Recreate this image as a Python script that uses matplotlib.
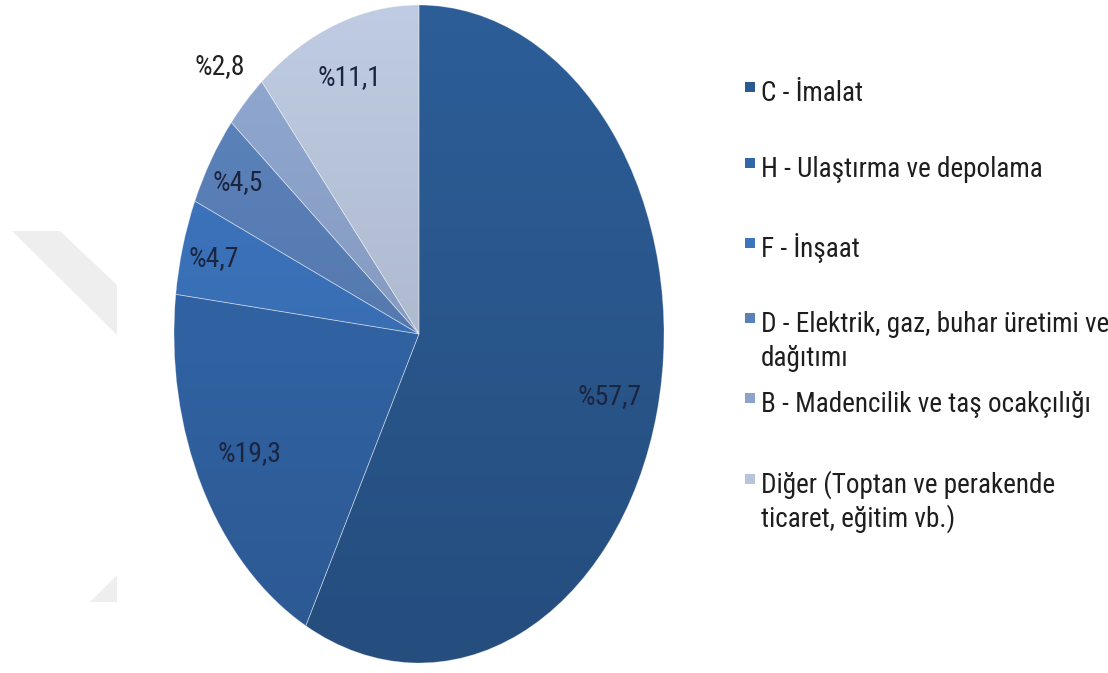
import matplotlib
matplotlib.use("Agg")
import matplotlib.pyplot as plt
import numpy as np
from matplotlib import font_manager
from matplotlib.colors import to_rgb
from matplotlib.patches import Polygon, Rectangle

# sector shares (%) clockwise from 12 o'clock
categories = [
    "C - İmalat",
    "H - Ulaştırma ve depolama",
    "F - İnşaat",
    "D - Elektrik, gaz, buhar üretimi ve\ndağıtımı",
    "B - Madencilik ve taş ocakçılığı",
    "Diğer (Toptan ve perakende\nticaret, eğitim vb.)",
]
shares = [57.7, 19.3, 4.7, 4.5, 2.8, 11.1]

colors = ["#2B5A92", "#3367AA", "#3C74BD", "#5A80B8", "#8CA3CB", "#B8C4DA"]

# radial position of each percentage label (fraction of radius)
label_r = [0.8, 0.78, 0.87, 0.87, 1.15, 0.83]
label_colors = ["#1B2540", "#1B2540", "#1B2540", "#1B2540", "#222222", "#1B2540"]

W, H = 1108, 673


def narrow_font():
    # prefer an Arial-Narrow-like upright face; otherwise plain Liberation Sans, smaller
    wanted = ["Liberation Sans Narrow", "Arial Narrow", "Roboto Condensed",
              "Open Sans Condensed", "DejaVu Sans Condensed"]
    upright = [f for f in font_manager.fontManager.ttflist
               if f.style == "normal" and f.weight in ("normal", "regular", 400)]
    for name in wanted:
        for f in upright:
            if f.name == name:
                return dict(fontproperties=font_manager.FontProperties(fname=f.fname)), 1.0
    for f in upright:
        if f.name == "DejaVu Sans" and f.stretch == "condensed":
            return dict(fontproperties=font_manager.FontProperties(fname=f.fname)), 0.95
    return dict(family=["Liberation Sans", "DejaVu Sans"]), 0.82


FONT, SCALE = narrow_font()

fig = plt.figure(figsize=(W / 100, H / 100), dpi=100)
fig.patch.set_facecolor("white")


def px(x, y):
    return (x / W, 1 - y / H)


# faint watermark bands on the left
for pts in ([(12, 231), (60, 231), (117, 285), (117, 335)],
            [(90, 602), (117, 575), (117, 602)]):
    fig.patches.append(Polygon([px(*p) for p in pts], closed=True,
                               transform=fig.transFigure, facecolor="#EEEEEE",
                               edgecolor="none", zorder=0))

# pie axes: ellipse centred at (419, 334) px, radii 245 x 329 px
cx, cy, rx, ry = 419, 334, 245, 329
lim = 1.05
ax = fig.add_axes([(cx - lim * rx) / W, (H - cy - lim * ry) / H,
                   2 * lim * rx / W, 2 * lim * ry / H])
wedges, _ = ax.pie(shares, colors=colors, startangle=90, counterclock=False,
                   wedgeprops=dict(edgecolor=(1, 1, 1, 0.35), linewidth=0.6))
ax.set_aspect("auto")
ax.set_xlim(-lim, lim)
ax.set_ylim(-lim, lim)

# soft top-to-bottom shading inside every slice
shade = np.linspace(1.04, 0.86, 256)[:, None, None]
for w, col in zip(wedges, colors):
    w.set_clip_on(False)
    grad = np.clip(np.array(to_rgb(col))[None, None, :] * shade, 0, 1)
    im = ax.imshow(grad, extent=(-1, 1, -1, 1), aspect="auto", origin="upper",
                   zorder=w.get_zorder() + 0.1, interpolation="bilinear")
    im.set_clip_path(w)
for w in wedges:
    w.set_facecolor("none")
    w.set_zorder(3)
ax.set_xlim(-lim, lim)
ax.set_ylim(-lim, lim)

for w, v, r, c in zip(wedges, shares, label_r, label_colors):
    mid = np.deg2rad((w.theta1 + w.theta2) / 2)
    txt = "%" + f"{v:.1f}".replace(".", ",")
    t = ax.text(r * np.cos(mid), r * np.sin(mid), txt, ha="center", va="center",
                color=c, zorder=5, **FONT)
    t.set_fontsize(20 * SCALE)

# legend drawn entry by entry (baseline of first line, px)
legend_base = [101, 177, 257, 332, 412, 493]
line_gap = 34
for lab, col, yb in zip(categories, colors, legend_base):
    for k, line in enumerate(lab.split("\n")):
        t = fig.text(761 / W, 1 - (yb + k * line_gap) / H, line, ha="left",
                     va="baseline", color="#1E1E1E", **FONT)
        t.set_fontsize(19.5 * SCALE)
    fig.patches.append(Rectangle(px(745, yb - 9), 10 / W, 10 / H,
                                 transform=fig.transFigure, facecolor=col,
                                 edgecolor="none"))

fig.savefig("out.png", dpi=100, facecolor="white")
